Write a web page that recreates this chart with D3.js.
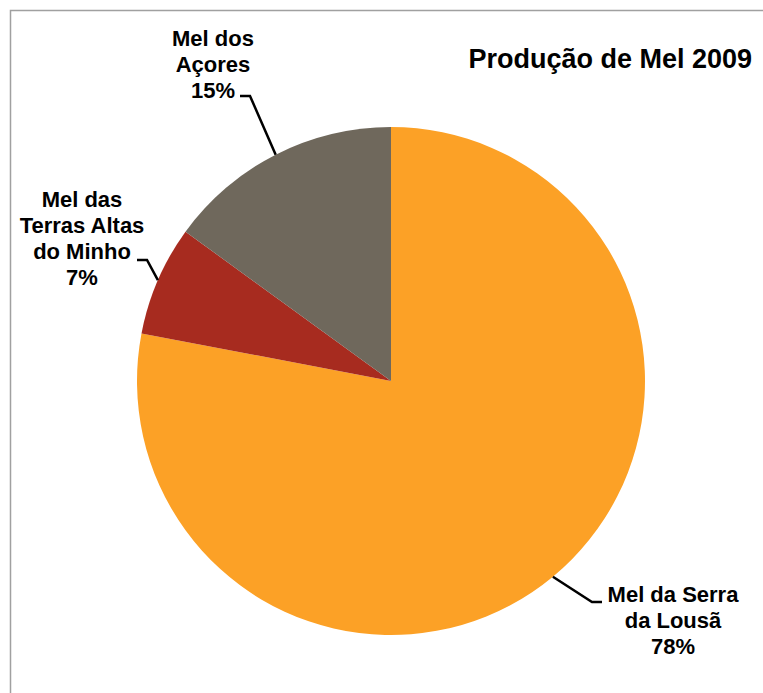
<!DOCTYPE html>
<html>
<head>
<meta charset="utf-8">
<script src="https://cdn.jsdelivr.net/npm/d3@7"></script>
<style>
  body { margin: 0; background: #fff; }
  text { font-family: "Liberation Sans", Arial, sans-serif; font-weight: bold; fill: #000; }
</style>
</head>
<body>
<script>
//chart data
var categories = ["Mel da Serra da Lousã", "Mel das Terras Altas do Minho", "Mel dos Açores"];
var values = [78, 7, 15];
var labelLines = [["Mel da Serra", "da Lousã"], ["Mel das", "Terras Altas", "do Minho"], ["Mel dos", "Açores"]];
var colors = ["#FCA126", "#A72B1F", "#6F685C"];
var title = "Produção de Mel 2009";

//layout
var w = 763, h = 693;
var cx = 391, cy = 381, r = 254;
//label anchor (centre x, first baseline y) and elbow end of the leader line
var labelPos = [
    {x: 673, y: 602, lx: 602, ly: 602, side: "left"},
    {x: 82, y: 207, lx: 147, ly: 260, side: "right"},
    {x: 213, y: 46, lx: 250, ly: 96, side: "right"}
];

window.onload = function(){

    var svg = d3.select("body")
        .append("svg")
        .attr("width", w)
        .attr("height", h);

    //chart frame
    svg.append("rect")
        .attr("x", 10.5)
        .attr("y", 10.5)
        .attr("width", w + 20)
        .attr("height", h + 20)
        .style("fill", "#fff")
        .style("stroke", "#A0A0A0")
        .style("stroke-width", 1.5);

    var pie = d3.pie().sort(null).value(function(d){ return d; });
    var arcs = pie(values);

    var arc = d3.arc().innerRadius(0).outerRadius(r);
    var edge = d3.arc().innerRadius(r).outerRadius(r);

    var g = svg.append("g").attr("transform", "translate(" + cx + "," + cy + ")");

    g.selectAll("path.slice")
        .data(arcs)
        .enter()
        .append("path")
        .attr("class", "slice")
        .attr("d", arc)
        .style("fill", function(d, i){ return colors[i]; });

    //leader lines
    svg.selectAll("polyline.leader")
        .data(arcs)
        .enter()
        .append("polyline")
        .attr("class", "leader")
        .attr("points", function(d, i){
            var c = edge.centroid(d);
            var p = labelPos[i];
            var hx = p.side == "left" ? p.lx - 10 : p.lx + 0;
            var startX = p.side == "left" ? p.lx : p.lx - 10;
            var ex = p.side == "left" ? p.lx - 10 : p.lx;
            return [[startX, p.ly], [ex, p.ly], [cx + c[0], cy + c[1]]].map(function(q){ return q.join(","); }).join(" ");
        })
        .style("fill", "none")
        .style("stroke", "#000")
        .style("stroke-width", 2.5);

    //labels
    var labels = svg.selectAll("text.label")
        .data(arcs)
        .enter()
        .append("text")
        .attr("class", "label")
        .attr("text-anchor", "middle")
        .style("font-size", "22px");

    labels.each(function(d, i){
        var t = d3.select(this);
        var p = labelPos[i];
        var lines = labelLines[i].concat([Math.round(d.value) + "%"]);
        lines.forEach(function(s, j){
            t.append("tspan")
                .attr("x", p.x)
                .attr("y", p.y + j * 26)
                .text(s);
        });
    });

    //title
    svg.append("text")
        .attr("x", 752)
        .attr("y", 68)
        .attr("text-anchor", "end")
        .style("font-size", "27px")
        .text(title);
};
</script>
</body>
</html>
